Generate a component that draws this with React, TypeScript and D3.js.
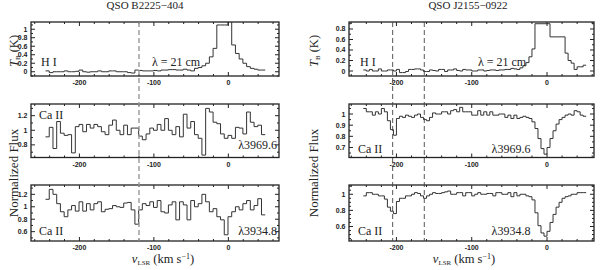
import * as d3 from "d3";

// ---------- data ----------
const leftEdge0 = -245.5; // first channel edge, km/s (B2225-404)
const leftWidth = 5;
const rightEdge0 = -244; // first channel edge, km/s (J2155-0922)
const rightWidth = 4;

const hiLeft = [0.02,-0.02,0.0,0.0,0.0,0.02,0.0,0.0,0.01,0.04,
 0.0,-0.01,0.0,0.0,0.02,0.0,0.0,0.02,0.02,0.0,
 0.0,0.0,-0.02,-0.03,0.04,0.03,0.02,0.02,0.02,0.03,
 0.02,0.04,0.04,0.05,0.05,0.04,0.04,0.06,0.04,0.02,
 0.08,0.1,0.14,0.2,0.35,0.55,1.1,1.1,1.1,1.25,
 0.63,0.43,0.3,0.2,0.12,0.08,0.06,0.04,0.04];

const caLeftMid = [0.91,1.04,0.75,1.12,0.96,0.93,0.94,0.69,1.05,1.08,
 0.98,1.08,1.03,1.08,1.05,0.98,0.94,1.07,1.14,1.0,
 0.94,1.07,0.94,1.03,1.03,0.92,0.87,0.95,1.03,1.0,
 1.08,1.0,1.16,1.0,0.94,1.05,0.91,1.22,1.03,1.12,
 0.94,0.89,0.66,1.30,1.25,1.11,1.09,0.95,0.89,0.93,
 0.89,1.04,1.03,0.95,1.25,1.11,1.05,1.07,0.94];

const caLeftBot = [1.12,1.28,1.2,1.05,0.92,0.84,0.95,1.02,0.93,1.08,
 0.93,1.05,0.95,1.05,1.08,0.92,0.96,0.97,1.02,1.0,
 0.99,1.06,1.07,0.95,0.72,0.95,1.05,1.02,1.08,0.99,
 1.1,0.92,0.9,1.03,1.08,0.79,1.08,1.03,0.79,1.1,
 1.0,1.05,1.2,1.08,0.92,0.97,0.84,0.79,0.55,0.84,
 0.92,1.0,0.95,1.05,1.1,0.95,1.02,1.13,0.87];

const hiRight = [0.02,0.0,0.03,0.0,0.0,0.04,0.0,0.0,0.02,0.02,
 0.0,0.03,-0.03,-0.03,-0.01,0.03,0.03,0.04,0.04,0.02,
 -0.01,-0.01,0.02,0.01,0.0,0.03,0.03,-0.01,0.02,0.02,
 0.04,0.01,0.0,0.03,0.02,0.02,0.0,0.0,0.02,0.02,
 0.0,0.01,0.02,0.02,0.01,0.02,0.02,0.03,0.03,0.05,
 0.04,0.03,0.06,0.1,0.16,0.27,0.42,0.9,0.9,0.9,
 0.9,0.9,0.65,0.65,0.65,0.65,0.65,0.34,0.2,0.15,
 0.03,0.08,0.08,0.11];

const caRightMid = [1.05,1.02,1.02,0.99,1.02,1.0,1.05,1.02,0.94,0.86,
 0.81,0.96,0.98,0.97,0.99,0.98,0.97,0.99,1.0,0.97,
 0.95,0.94,0.97,1.01,1.0,1.0,1.02,1.02,1.0,1.03,
 1.04,1.02,1.06,1.02,1.02,1.02,0.99,0.99,1.03,0.99,
 1.02,0.99,1.02,0.99,0.99,1.0,1.0,0.97,0.99,0.96,
 0.99,0.96,0.97,0.98,0.97,0.96,0.93,0.87,0.78,0.69,
 0.64,0.7,0.78,0.85,0.91,0.95,0.97,0.99,1.0,0.99,
 1.03,1.02,0.99,0.98];

const caRightBot = [0.98,1.02,1.02,1.0,1.0,0.98,0.98,0.94,0.84,0.79,
 0.76,0.91,0.95,0.95,0.98,0.98,1.0,1.02,1.01,0.98,
 0.95,0.98,1.0,1.02,1.01,1.01,1.02,1.03,1.04,1.0,
 1.0,1.02,1.02,0.98,1.02,1.02,0.98,1.0,1.02,1.0,
 1.0,1.01,1.01,0.98,1.02,1.02,1.0,1.0,1.02,0.97,
 1.02,0.98,1.0,1.0,0.98,0.97,0.93,0.77,0.61,0.52,
 0.48,0.54,0.65,0.75,0.84,0.9,0.95,0.97,0.98,1.0,
 1.0,1.02,1.02,1.02];

const titles = ["QSO B2225\u2212404", "QSO J2155\u22120922"];
const xMajorTicks = [-200, -100, 0];
const leftMarks = [-120];
const rightMarks = [-205, -163];

const yTicksTL = [0, 0.2, 0.4, 0.6, 0.8, 1];
const yTicksTR = [0, 0.2, 0.4, 0.6, 0.8];
const yTicksML = [0.8, 1, 1.2];
const yTicksMR = [0.7, 0.8, 0.9, 1];
const yTicksBL = [0.6, 0.8, 1, 1.2];
const yTicksBR = [0.6, 0.8, 1];

// ---------- layout ----------
const colX = [
  { x0: 31, x1: 279, domain: [-265, 68] as [number, number] },
  { x0: 349, x1: 594, domain: [-263, 62.4] as [number, number] },
];
const rowY = [
  { y0: 22, y1: 76 },
  { y0: 104, y1: 157.5 },
  { y0: 185, y1: 241 },
];

type Panel = {
  col: number; row: number; values: number[]; edge0: number; width: number;
  yDomain: [number, number]; yTicks: number[]; yMinor: number;
  labelL: string; labelR: string; labelLY: number; labelRY: number;
};

const panels: Panel[] = [
  { col: 0, row: 0, values: hiLeft, edge0: leftEdge0, width: leftWidth, yDomain: [-0.1, 1.17], yTicks: yTicksTL, yMinor: 0.1, labelL: "H I", labelR: "\u03bb = 21 cm", labelLY: 66, labelRY: 66 },
  { col: 0, row: 1, values: caLeftMid, edge0: leftEdge0, width: leftWidth, yDomain: [0.627, 1.36], yTicks: yTicksML, yMinor: 0.1, labelL: "Ca II", labelR: "\u03bb3969.6", labelLY: 119, labelRY: 148.5 },
  { col: 0, row: 2, values: caLeftBot, edge0: leftEdge0, width: leftWidth, yDomain: [0.45, 1.35], yTicks: yTicksBL, yMinor: 0.1, labelL: "Ca II", labelR: "\u03bb3934.8", labelLY: 235, labelRY: 234.5 },
  { col: 1, row: 0, values: hiRight, edge0: rightEdge0, width: rightWidth, yDomain: [-0.095, 0.933], yTicks: yTicksTR, yMinor: 0.1, labelL: "H I", labelR: "\u03bb = 21 cm", labelLY: 66, labelRY: 66 },
  { col: 1, row: 1, values: caRightMid, edge0: rightEdge0, width: rightWidth, yDomain: [0.61, 1.09], yTicks: yTicksMR, yMinor: 0.05, labelL: "Ca II", labelR: "\u03bb3969.6", labelLY: 153, labelRY: 153 },
  { col: 1, row: 2, values: caRightBot, edge0: rightEdge0, width: rightWidth, yDomain: [0.42, 1.115], yTicks: yTicksBR, yMinor: 0.05, labelL: "Ca II", labelR: "\u03bb3934.8", labelLY: 235, labelRY: 235 },
];

const serif = "'Liberation Serif', 'DejaVu Serif', serif";
const sans = "'Liberation Sans', Arial, sans-serif";
const fmt = d3.format("~g");

function PanelView({ p, idx }: { p: Panel; idx: number }) {
  const c = colX[p.col];
  const r = rowY[p.row];
  const x = d3.scaleLinear().domain(c.domain).range([c.x0, c.x1]);
  const y = d3.scaleLinear().domain(p.yDomain).range([r.y1, r.y0]);
  const pts: [number, number][] = [];
  p.values.forEach((v, i) => {
    const a = p.edge0 + i * p.width;
    pts.push([a, v], [a + p.width, v]);
  });
  const line = d3.line<[number, number]>().x((d) => x(d[0])).y((d) => y(d[1]));
  const xMinor = d3.range(-260, c.domain[1], 20).filter((v) => !xMajorTicks.includes(v));
  const yMinor = d3
    .range(Math.ceil(p.yDomain[0] / p.yMinor) * p.yMinor, p.yDomain[1], p.yMinor)
    .filter((v) => !p.yTicks.some((t) => Math.abs(t - v) < 1e-6));
  const clipId = `clip${idx}`;
  const tickCol = "#222";
  const isRight = p.col === 1;
  return (
    <g>
      <defs>
        <clipPath id={clipId}>
          <rect x={c.x0} y={r.y0} width={c.x1 - c.x0} height={r.y1 - r.y0} />
        </clipPath>
      </defs>
      <path d={line(pts) || ""} fill="none" stroke="#333" strokeWidth={1} clipPath={`url(#${clipId})`} />
      {xMajorTicks.map((t) => (
        <g key={`xm${t}`}>
          <line x1={x(t)} x2={x(t)} y1={r.y1} y2={r.y1 - 4} stroke={tickCol} />
          <line x1={x(t)} x2={x(t)} y1={r.y0} y2={r.y0 + 4} stroke={tickCol} />
          <text x={x(t)} y={r.y1 + 9} textAnchor="middle" fontFamily={sans} fontWeight="bold" fontSize={7} fill="#222">
            {t === 0 ? "0" : `-${Math.abs(t)}`}
          </text>
        </g>
      ))}
      {xMinor.map((t) => (
        <g key={`xn${t}`}>
          <line x1={x(t)} x2={x(t)} y1={r.y1} y2={r.y1 - 2} stroke={tickCol} />
          <line x1={x(t)} x2={x(t)} y1={r.y0} y2={r.y0 + 2} stroke={tickCol} />
        </g>
      ))}
      {p.yTicks.map((t) => (
        <g key={`ym${t}`}>
          <line x1={c.x0} x2={c.x0 + 4} y1={y(t)} y2={y(t)} stroke={tickCol} />
          <line x1={c.x1} x2={c.x1 - 4} y1={y(t)} y2={y(t)} stroke={tickCol} />
          <text x={c.x0 - 3.5} y={y(t) + 2.5} textAnchor="end" fontFamily={sans} fontWeight="bold" fontSize={7} fill="#222">
            {fmt(t)}
          </text>
        </g>
      ))}
      {yMinor.map((t) => (
        <g key={`yn${t}`}>
          <line x1={c.x0} x2={c.x0 + 2} y1={y(t)} y2={y(t)} stroke={tickCol} />
          <line x1={c.x1} x2={c.x1 - 2} y1={y(t)} y2={y(t)} stroke={tickCol} />
        </g>
      ))}
      <rect x={c.x0} y={r.y0} width={c.x1 - c.x0} height={r.y1 - r.y0} fill="none" stroke="#222" strokeWidth={1.3} />
      <text x={p.row === 0 ? c.x0 + (isRight ? 11 : 10) : c.x0 + (isRight ? 9 : 8)} y={p.labelLY} fontFamily={serif} fontSize={12} fill="#222">
        {p.labelL}
      </text>
      <text
        x={p.row === 0 ? (isRight ? 502 : 176) : isRight ? 511 : 277}
        y={p.labelRY}
        textAnchor={p.row === 0 ? "middle" : isRight ? "middle" : "end"}
        fontFamily={serif}
        fontSize={12}
        fill="#222"
      >
        {p.labelR}
      </text>
    </g>
  );
}

export default function App() {
  const xl = d3.scaleLinear().domain(colX[0].domain).range([colX[0].x0, colX[0].x1]);
  const xr = d3.scaleLinear().domain(colX[1].domain).range([colX[1].x0, colX[1].x1]);
  const yTop = rowY[0].y0;
  const yBot = rowY[2].y1;
  return (
    <svg width={600} height={270} style={{ position: "absolute", left: 0, top: 0, background: "#fff" }}>
      <rect width={600} height={270} fill="#fff" />
      {panels.map((p, i) => (
        <PanelView key={i} p={p} idx={i} />
      ))}
      {leftMarks.map((v) => (
        <line key={`lm${v}`} x1={xl(v)} x2={xl(v)} y1={yTop} y2={yBot} stroke="#999" strokeWidth={1.4} strokeDasharray="5,3" />
      ))}
      {rightMarks.map((v) => (
        <line key={`rm${v}`} x1={xr(v)} x2={xr(v)} y1={yTop} y2={yBot} stroke="#444" strokeWidth={0.9} strokeDasharray="5,3" />
      ))}
      <text x={145} y={9} textAnchor="middle" fontFamily={serif} fontSize={11} fill="#222">{titles[0]}</text>
      <text x={468} y={9} textAnchor="middle" fontFamily={serif} fontSize={11} fill="#222">{titles[1]}</text>
      {[18, 318].map((bx) => (
        <g key={`yl${bx}`}>
          <text transform={`translate(${bx},51) rotate(-90)`} textAnchor="middle" fontFamily={serif} fontSize={12.5} fill="#222">
            <tspan fontStyle="italic">T</tspan>
            <tspan fontSize={7} dy={2}>B</tspan>
            <tspan dy={-2}> (K)</tspan>
          </text>
          <text transform={`translate(${bx},173) rotate(-90)`} textAnchor="middle" fontFamily={serif} fontSize={13} fill="#222">
            Normalized Flux
          </text>
        </g>
      ))}
      {[163, 464].map((cx) => (
        <text key={`xl${cx}`} x={cx} y={263} textAnchor="middle" fontFamily={serif} fontSize={12.5} fill="#222">
          <tspan fontStyle="italic">v</tspan>
          <tspan fontSize={7} dy={2}>LSR</tspan>
          <tspan dy={-2}> (km s</tspan>
          <tspan fontSize={8} dy={-4}>{"\u22121"}</tspan>
          <tspan dy={4}>)</tspan>
        </text>
      ))}
    </svg>
  );
}
